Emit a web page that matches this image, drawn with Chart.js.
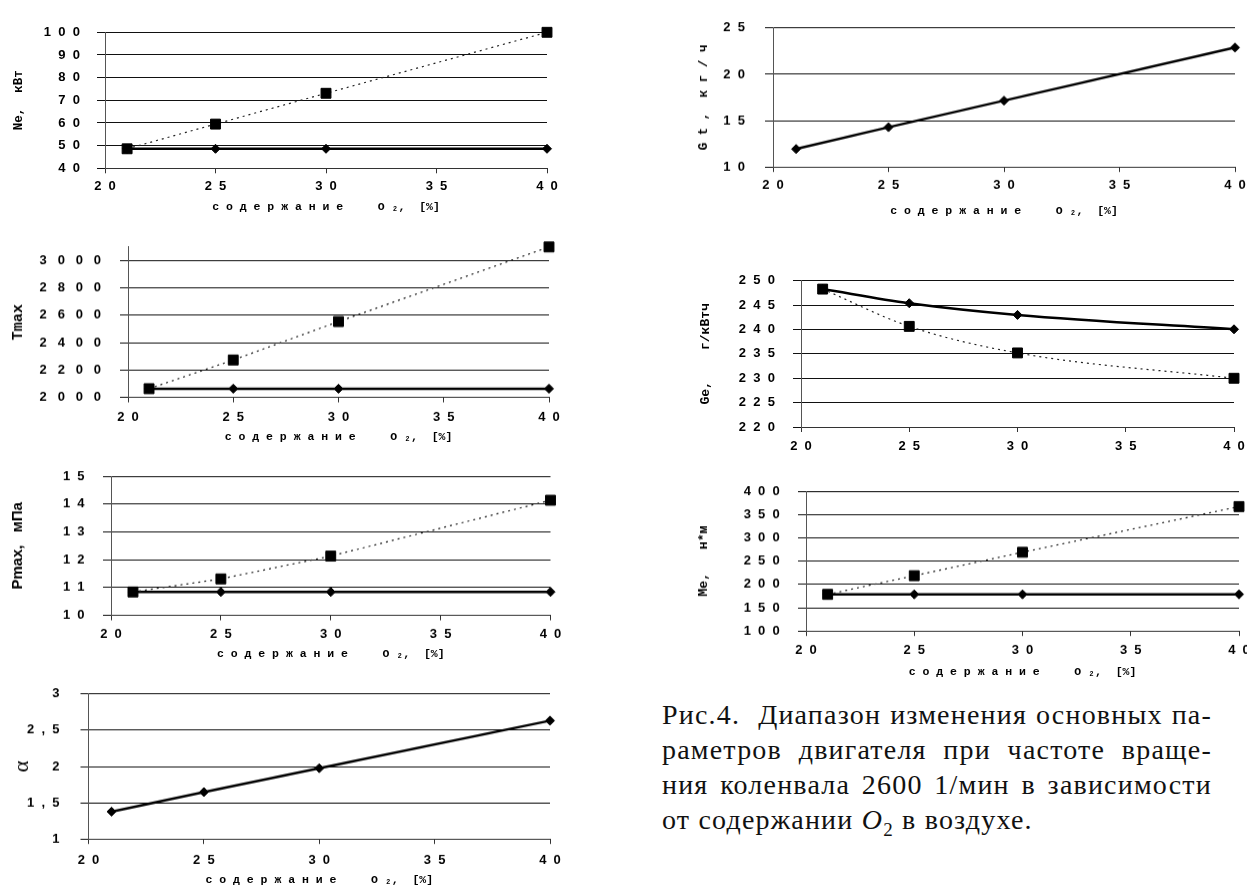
<!DOCTYPE html>
<html>
<head>
<meta charset="utf-8">
<script src="https://cdn.jsdelivr.net/npm/chart.js@4/dist/chart.umd.min.js"></script>
<style>
html,body{margin:0;padding:0;background:#fff;width:1247px;height:888px;overflow:hidden;position:relative;}
canvas{position:absolute;}
#cap{position:absolute;left:662px;top:697px;width:550px;font-family:'Liberation Serif','DejaVu Serif',serif;font-size:28px;line-height:35px;letter-spacing:1.2px;color:#111;}
#cap .j{text-align:justify;text-align-last:justify;}
#cap sub{font-size:19px;line-height:0;}
</style>
</head>
<body>
<div id="cap">
<div class="j">Рис.4.&nbsp; Диапазон изменения основных па-</div>
<div class="j">раметров двигателя при частоте враще-</div>
<div class="j">ния коленвала 2600 1/мин в зависимости</div>
<div>от содержании <i>O</i><sub>2</sub> в воздухе.</div>
</div>
<script>
// ---- data ----
const xValues = [21, 25, 30, 40];
const xTickLabels = ['2  0', '2  5', '3  0', '3  5', '4  0'];
const xTitleText = 'с о д е р ж а н и е     O ₂,  [%]';

const neBase = [48.6, 48.6, 48.6, 48.6];
const neO2 = [48.6, 59.5, 73.1, 100];
const neTicks = ['4  0', '5  0', '6  0', '7  0', '8  0', '9  0', '1  0  0'];

const tmaxBase = [2063, 2063, 2063, 2063];
const tmaxO2 = [2063, 2273, 2554, 3100];
const tmaxTicks = ['2   0   0   0', '2   2   0   0', '2   4   0   0', '2   6   0   0', '2   8   0   0', '3   0   0   0'];

const pmaxBase = [10.84, 10.84, 10.84, 10.84];
const pmaxO2 = [10.84, 11.31, 12.13, 14.14];
const pmaxTicks = ['1  0', '1  1', '1  2', '1  3', '1  4', '1  5'];

const alphaVals = [1.377, 1.647, 1.976, 2.632];
const alphaTicks = ['1', '1  ,  5', '2', '2  ,  5', '3'];

const gtVals = [11.94, 14.29, 17.16, 22.89];
const gtTicks = ['1  0', '1  5', '2  0', '2  5'];

const geBase = [248.3, 245.4, 243.0, 240.05];
const geO2 = [248.3, 240.65, 235.2, 230.0];
const geTicks = ['2  2  0', '2  2  5', '2  3  0', '2  3  5', '2  4  0', '2  4  5', '2  5  0'];

const meBase = [178.6, 178.6, 178.6, 178.6];
const meO2 = [178.6, 218.6, 268.9, 366.9];
const meTicks = ['1  0  0', '1  5  0', '2  0  0', '2  5  0', '3  0  0', '3  5  0', '4  0  0'];

// ---- helpers ----
const tickFont = {family: "'Liberation Sans', Arial, sans-serif", size: 13, weight: 'bold', lineHeight: 1.2};
const xTitleFont = {family: "'Liberation Mono', 'DejaVu Sans Mono', monospace", size: 11.5, weight: 'bold', lineHeight: 1};

function pts(vals) { return xValues.map((x, i) => ({x: x, y: vals[i]})); }

function squareSeries(vals, smooth) {
  return {data: pts(vals), borderColor: '#222', borderWidth: 1.2, borderDash: [2, 4],
    pointStyle: 'rect', pointRadius: 7, pointBackgroundColor: '#000', pointBorderColor: '#000',
    pointBorderWidth: 1, clip: false, fill: false,
    cubicInterpolationMode: smooth ? 'monotone' : 'default', tension: 0};
}
function diamondSeries(vals, smooth) {
  return {data: pts(vals), borderColor: '#000', borderWidth: 2.5,
    pointStyle: 'rectRot', pointRadius: 4.5, pointBackgroundColor: '#000', pointBorderColor: '#000',
    pointBorderWidth: 1, clip: false, fill: false,
    cubicInterpolationMode: smooth ? 'monotone' : 'default', tension: 0};
}

function panel(b, cfg) {
  const c = document.createElement('canvas');
  c.width = b.w; c.height = b.h;
  c.style.left = b.x + 'px'; c.style.top = b.y + 'px';
  c.style.width = b.w + 'px'; c.style.height = b.h + 'px';
  document.body.appendChild(c);
  new Chart(c, {
    type: 'line',
    data: {datasets: cfg.datasets},
    options: {
      responsive: false, animation: false, devicePixelRatio: 1,
      layout: {padding: {left: 0, top: b.T - b.y, right: b.x + b.w - b.R, bottom: 0}},
      plugins: {legend: {display: false}, tooltip: {enabled: false}},
      scales: {
        x: {
          type: 'linear', min: 20, max: 40,
          afterFit: s => { s.height = b.y + b.h - b.B; },
          ticks: {stepSize: 5, autoSkip: false, maxRotation: 0, padding: cfg.xPad, font: tickFont, color: '#000',
            callback: (v, i) => xTickLabels[i]},
          grid: {drawOnChartArea: false, drawTicks: true, tickLength: 5, color: '#333'},
          border: {display: true, color: '#333', width: 1},
          title: {display: cfg.xTitle !== false, text: xTitleText, font: xTitleFont, color: '#000', padding: {top: 0, bottom: 0}}
        },
        y: {
          type: 'linear', min: cfg.min, max: cfg.max,
          afterFit: s => { s.width = b.L - b.x; },
          ticks: {stepSize: cfg.step, includeBounds: false, padding: cfg.yPad, font: tickFont, color: '#000',
            callback: (v, i) => cfg.yTicks[i]},
          grid: {color: '#111', lineWidth: 1, drawTicks: true, tickLength: 8},
          border: {display: true, color: '#555', width: 1},
          title: {display: true, text: cfg.yTitle, font: cfg.yTitleFont, color: '#000', padding: {top: cfg.yTitlePad, bottom: 0}}
        }
      }
    }
  });
}

const mono = (s) => ({family: "'Liberation Mono', 'DejaVu Sans Mono', monospace", size: s, weight: 'bold', lineHeight: 1});

// Ne
panel({x: 0, y: 0, w: 600, h: 213, L: 105, T: 32.3, R: 547, B: 168.3}, {
  datasets: [squareSeries(neO2), diamondSeries(neBase)],
  min: 40, max: 100, step: 10, yTicks: neTicks, yPad: 17, xPad: 5,
  yTitle: 'Ne,  кВт', yTitleFont: mono(12.5), yTitlePad: 12.2
});
// Tmax
panel({x: 0, y: 220, w: 600, h: 222.5, L: 128, T: 238.5, R: 549, B: 397}, {
  datasets: [squareSeries(tmaxO2), diamondSeries(tmaxBase)],
  min: 2000, max: 3100, step: 200, yTicks: tmaxTicks, yPad: 19, xPad: 7,
  yTitle: 'Tmax', yTitleFont: mono(15), yTitlePad: 11
});
// Pmax
panel({x: 0, y: 450, w: 600, h: 209.5, L: 111, T: 473.3, R: 550.5, B: 615}, {
  datasets: [squareSeries(pmaxO2), diamondSeries(pmaxBase)],
  min: 10, max: 15, step: 1, yTicks: pmaxTicks, yPad: 18.4, xPad: 6,
  yTitle: 'Pmax,   мПа', yTitleFont: {family: "'Liberation Sans', Arial, sans-serif", size: 15, weight: 'bold', lineHeight: 1}, yTitlePad: 10.3
});
// alpha
panel({x: 0, y: 665, w: 600, h: 220.5, L: 88.5, T: 688.3, R: 550, B: 838.7}, {
  datasets: [diamondSeries(alphaVals)],
  min: 1, max: 3, step: 0.5, yTicks: alphaTicks, yPad: 21, xPad: 8,
  yTitle: 'α', yTitleFont: {family: "'Liberation Serif', serif", size: 22, weight: 'normal', lineHeight: 1}, yTitlePad: 11
});
// Gt
panel({x: 620, y: 0, w: 640, h: 216.5, L: 773, T: 20, R: 1235, B: 166.7}, {
  datasets: [diamondSeries(gtVals)],
  min: 10, max: 25, step: 5, yTicks: gtTicks, yPad: 20, xPad: 5.8,
  yTitle: 'G t ,  к г / ч', yTitleFont: mono(12.5), yTitlePad: 78
});
// Ge
panel({x: 620, y: 255, w: 640, h: 205, L: 801, T: 278.3, R: 1234, B: 427}, {
  datasets: [squareSeries(geO2, true), diamondSeries(geBase, true)],
  min: 220, max: 250, step: 5, yTicks: geTicks, yPad: 18, xPad: 6.2, xTitle: false,
  yTitle: 'Ge,    г/кВтч', yTitleFont: mono(13), yTitlePad: 79.5
});
// Me
panel({x: 620, y: 465, w: 640, h: 212.5, L: 806, T: 485.7, R: 1239, B: 630.7}, {
  datasets: [squareSeries(meO2), diamondSeries(meBase)],
  min: 100, max: 400, step: 50, yTicks: meTicks, yPad: 18.2, xPad: 6.8,
  yTitle: 'Me,   н*м', yTitleFont: mono(13), yTitlePad: 77.5
});
</script>
</body>
</html>
